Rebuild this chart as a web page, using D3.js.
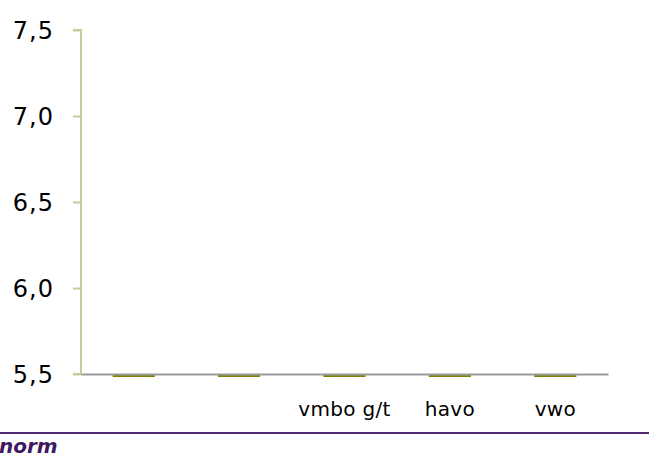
<!DOCTYPE html>
<html>
<head>
<meta charset="utf-8">
<script src="https://cdn.jsdelivr.net/npm/d3@7/dist/d3.min.js"></script>
<style>
  html, body { margin: 0; padding: 0; background: #fff; }
  svg text { font-family: "DejaVu Sans", Verdana, sans-serif; }
</style>
</head>
<body>
<svg id="chart" width="649" height="459"></svg>
<script>
// ── Data ────────────────────────────────────────────────────────────────
const categories = ['c1', 'c2', 'vmbo g/t', 'havo', 'vwo'];
const catLabels  = ['', '', 'vmbo g/t', 'havo', 'vwo'];
const values     = [5.5, 5.5, 5.5, 5.5, 5.5];
const yTicks     = [5.5, 6.0, 6.5, 7.0, 7.5];
const footerText = 'norm';

(function () {
  'use strict';

  // ── Layout ──────────────────────────────────────────────────────────────
  const W = 649;
  const mLeft = 81, mRight = 608, mTop = 30, mBottom = 374;

  const svg = d3.select('#chart');

  const x = d3.scaleBand().domain(categories).range([mLeft, mRight]).paddingInner(0.6).paddingOuter(0.3);
  const y = d3.scaleLinear().domain([5.5, 7.5]).range([mBottom, mTop]);

  // y axis
  const yAxis = svg.append('g').attr('transform', `translate(${mLeft},0)`)
    .call(d3.axisLeft(y).tickValues(yTicks).tickSize(8).tickPadding(19)
      .tickFormat(d => d3.format('.1f')(d).replace('.', ',')));
  yAxis.select('.domain').attr('stroke', '#c9c99b').attr('stroke-width', 2)
    .attr('d', `M-8,${mTop}H0V${mBottom}H-8`);
  yAxis.selectAll('.tick text').attr('font-size', 24).attr('fill', '#000')
    .attr('letter-spacing', 1).attr('dy', '0.36em')
    .attr('font-family', '"DejaVu Sans", Verdana, sans-serif');
  yAxis.selectAll('.tick line').attr('stroke', '#c9c99b').attr('stroke-width', 2);

  // bars
  svg.append('g').selectAll('rect').data(values).join('rect')
    .attr('x', (d, i) => x(categories[i]))
    .attr('width', x.bandwidth())
    .attr('y', d => y(d) + 1)
    .attr('height', d => Math.max(2, y(5.5) - y(d) + 2))
    .attr('fill', '#808000');

  // x axis
  const xAxis = svg.append('g').attr('transform', `translate(0,${mBottom})`)
    .call(d3.axisBottom(x).tickSize(0).tickPadding(28)
      .tickFormat((d, i) => catLabels[i]));
  xAxis.select('.domain').attr('stroke', '#999').attr('stroke-width', 2);
  xAxis.selectAll('.tick text').attr('font-size', 20).attr('fill', '#000')
    .attr('letter-spacing', 0.3)
    .attr('font-family', '"DejaVu Sans", Verdana, sans-serif');

  // footer rule + label
  svg.append('line').attr('x1', 0).attr('x2', W).attr('y1', 433).attr('y2', 433)
    .attr('stroke', '#4e2a72').attr('stroke-width', 2);
  svg.append('text').attr('x', -1).attr('y', 453).text(footerText)
    .attr('font-size', 20).attr('font-weight', 'bold').attr('font-style', 'italic')
    .attr('fill', '#3f1863');
})();
</script>
</body>
</html>
